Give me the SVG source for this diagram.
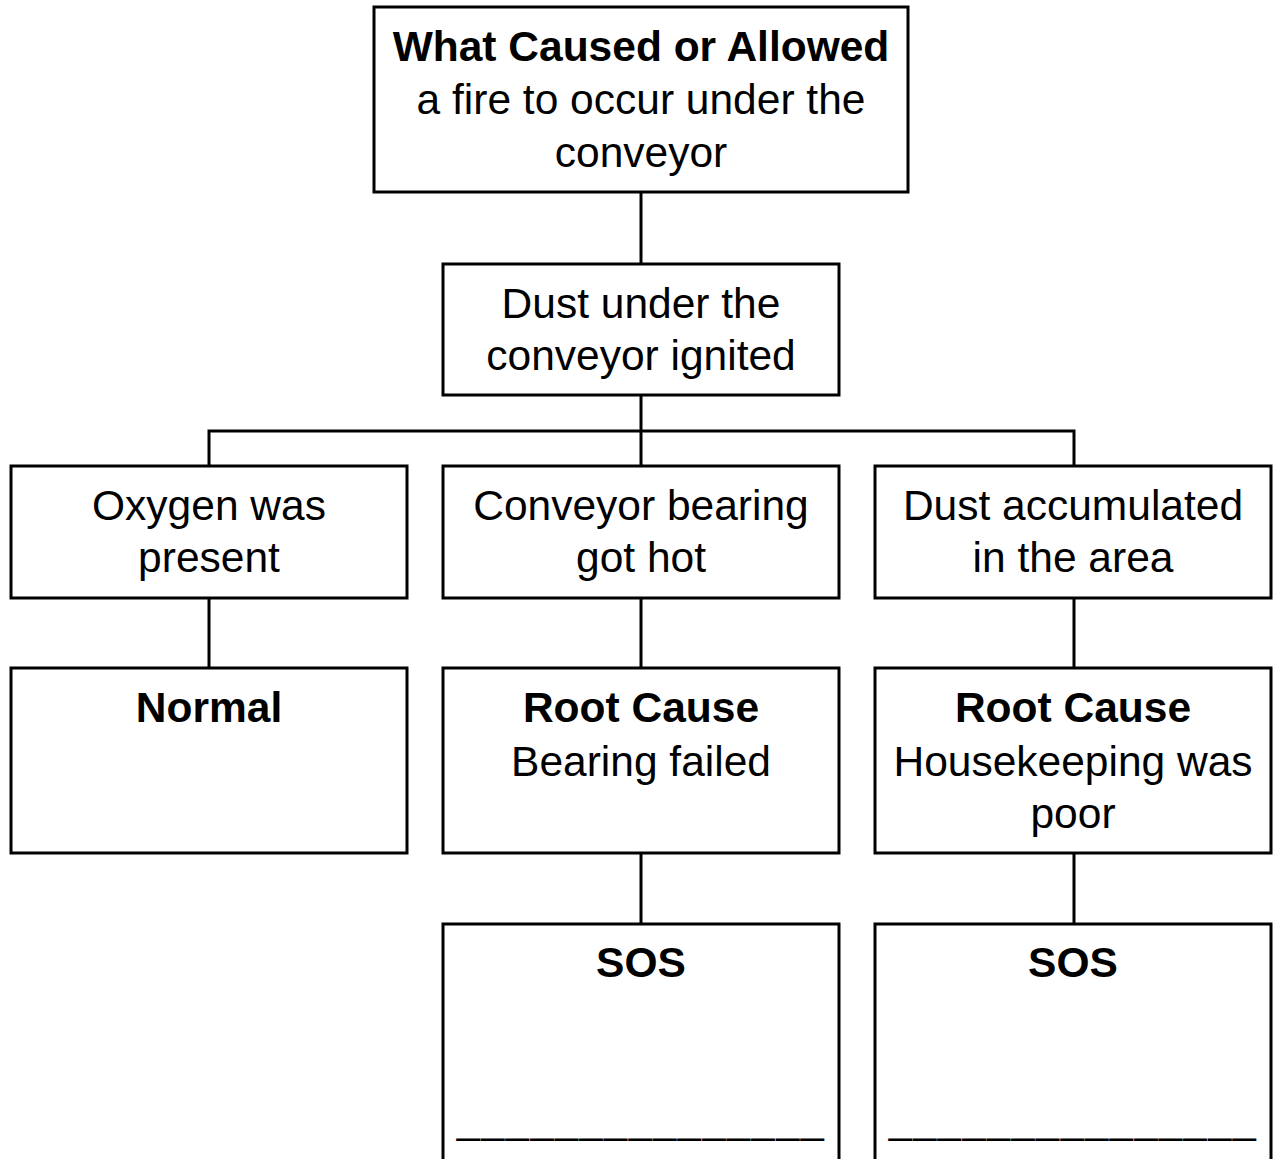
<svg xmlns="http://www.w3.org/2000/svg" width="1273" height="1159" viewBox="0 0 1273 1159">
<style>
.box{fill:#fff;stroke:#000;stroke-width:3}
.con{stroke:#000;stroke-width:3;fill:none}
text{font-family:"Liberation Sans",Arial,sans-serif;font-size:42.5px;fill:#000;text-anchor:middle}
.b{font-weight:bold}
.u{font-size:41.5px;letter-spacing:1.5px}
</style>
<rect width="1273" height="1159" fill="#fff"/>
<g id="connectors">
<line class="con" x1="641" y1="192" x2="641" y2="264"/>
<line class="con" x1="641" y1="395" x2="641" y2="466"/>
<polyline class="con" points="209,466 209,431 1074,431 1074,466"/>
<line class="con" x1="209" y1="598" x2="209" y2="668"/>
<line class="con" x1="641" y1="598" x2="641" y2="668"/>
<line class="con" x1="1074" y1="598" x2="1074" y2="668"/>
<line class="con" x1="641" y1="853" x2="641" y2="924"/>
<line class="con" x1="1074" y1="853" x2="1074" y2="924"/>
</g>
<g id="top">
<rect class="box" x="374" y="7" width="534" height="185"/>
<text x="641" y="61" class="b">What Caused or Allowed</text>
<text x="641" y="114">a fire to occur under the</text>
<text x="641" y="167">conveyor</text>
</g>
<g id="dust">
<rect class="box" x="443" y="264" width="396" height="131"/>
<text x="641" y="318">Dust under the</text>
<text x="641" y="370">conveyor ignited</text>
</g>
<g id="oxygen">
<rect class="box" x="11" y="466" width="396" height="132"/>
<text x="209" y="520">Oxygen was</text>
<text x="209" y="572">present</text>
</g>
<g id="bearing">
<rect class="box" x="443" y="466" width="396" height="132"/>
<text x="641" y="520">Conveyor bearing</text>
<text x="641" y="572">got hot</text>
</g>
<g id="accum">
<rect class="box" x="875" y="466" width="396" height="132"/>
<text x="1073" y="520">Dust accumulated</text>
<text x="1073" y="572">in the area</text>
</g>
<g id="normal">
<rect class="box" x="11" y="668" width="396" height="185"/>
<text x="209" y="722" class="b">Normal</text>
</g>
<g id="root1">
<rect class="box" x="443" y="668" width="396" height="185"/>
<text x="641" y="722" class="b">Root Cause</text>
<text x="641" y="776">Bearing failed</text>
</g>
<g id="root2">
<rect class="box" x="875" y="668" width="396" height="185"/>
<text x="1073" y="722" class="b">Root Cause</text>
<text x="1073" y="776">Housekeeping was</text>
<text x="1073" y="828">poor</text>
</g>
<g id="sos1">
<rect class="box" x="443" y="924" width="396" height="260"/>
<text x="641" y="977" class="b">SOS</text>
<text x="641" y="1133" class="u">_______________</text>
</g>
<g id="sos2">
<rect class="box" x="875" y="924" width="396" height="260"/>
<text x="1073" y="977" class="b">SOS</text>
<text x="1073" y="1133" class="u">_______________</text>
</g>
</svg>
